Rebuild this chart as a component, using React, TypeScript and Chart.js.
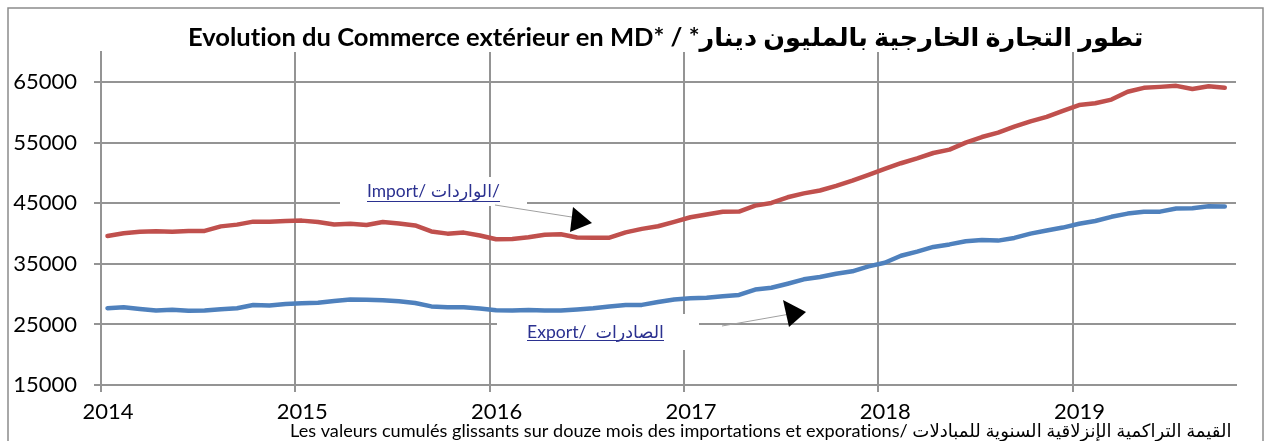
import React, { useEffect, useRef } from "react";
import { Chart, registerables } from "chart.js";

Chart.register(...registerables);

// Monthly rolling 12-month cumulative values, Jan 2014 .. Oct 2019 (MD)
const importValues = [
  39620, 40070, 40330, 40400, 40330, 40450, 40450, 41200, 41490, 41980, 41980, 42100,
  42150, 41930, 41520, 41650, 41440, 41930, 41680, 41350, 40360, 40000, 40170, 39700,
  39080, 39100, 39400, 39820, 39900, 39360, 39320, 39340, 40210, 40790, 41220, 41950,
  42710, 43170, 43630, 43650, 44630, 45070, 46000, 46650, 47130, 47900, 48750, 49700,
  50680, 51630, 52440, 53320, 53880, 55030, 55960, 56680, 57670, 58550, 59290, 60280,
  61240, 61530, 62140, 63430, 64080, 64240, 64410, 63880, 64340, 64090,
];
const exportValues = [
  27690, 27850, 27570, 27300, 27410, 27250, 27290, 27530, 27680, 28200, 28130, 28390,
  28500, 28600, 28860, 29140, 29060, 29010, 28820, 28540, 27980, 27860, 27850, 27650,
  27350, 27300, 27380, 27310, 27290, 27480, 27670, 27980, 28200, 28230, 28700, 29120,
  29320, 29420, 29650, 29870, 30760, 31060, 31730, 32450, 32850, 33380, 33780, 34600,
  35200, 36350, 37040, 37800, 38220, 38740, 38960, 38850, 39290, 40000, 40520, 41000,
  41640, 42090, 42780, 43310, 43600, 43630, 44160, 44190, 44520, 44470,
];
const startYear = 2014;
const yearTicks = [2014, 2015, 2016, 2017, 2018, 2019];
const valueTicks = [15000, 25000, 35000, 45000, 55000, 65000];

const titleFr = "Evolution du Commerce extérieur en MD* / ";
const titleAr = "\u200Fتطور التجارة الخارجية بالمليون دينار*\u200F";
const footerText =
  "Les valeurs cumulés glissants sur douze mois des importations et exporations/ القيمة التراكمية الإنزلاقية السنوية للمبادلات";
const importLabel = "Import/ الواردات/";
const exportLabel = "Export/  الصادرات";

const FONT = "Lato, 'DejaVu Sans', sans-serif";
const GRID = "#949494";
const RED = "#C0504D";
const BLUE = "#4F81BD";
const LINKBLUE = "#2b3190";

const monthX = (i: number) => startYear + (i + 0.4) / 12;

function fitFont(ctx: CanvasRenderingContext2D, text: string, weight: string, target: number) {
  let size = 20;
  (ctx as any).letterSpacing = "0.01px";
  ctx.font = `${weight} ${size}px ${FONT}`;
  const w = ctx.measureText(text).width;
  size = (size * target) / w;
  ctx.font = `${weight} ${size}px ${FONT}`;
  return size;
}

function drawLink(ctx: CanvasRenderingContext2D, text: string, left: number, width: number, cy: number, underlineY: number) {
  fitFont(ctx, text, "normal", width);
  ctx.fillStyle = LINKBLUE;
  ctx.textAlign = "left";
  ctx.textBaseline = "middle";
  ctx.direction = "ltr";
  ctx.fillText(text, left, cy);
  ctx.strokeStyle = LINKBLUE;
  ctx.lineWidth = 1;
  ctx.beginPath();
  ctx.moveTo(left, underlineY + 0.5);
  ctx.lineTo(left + width, underlineY + 0.5);
  ctx.stroke();
}

function drawPointer(ctx: CanvasRenderingContext2D, from: number[], to: number[], tri: number[][]) {
  ctx.strokeStyle = "#a0a0a0";
  ctx.lineWidth = 1;
  ctx.beginPath();
  ctx.moveTo(from[0], from[1]);
  ctx.lineTo(to[0], to[1]);
  ctx.stroke();
  ctx.fillStyle = "#000";
  ctx.beginPath();
  ctx.moveTo(tri[0][0], tri[0][1]);
  ctx.lineTo(tri[1][0], tri[1][1]);
  ctx.lineTo(tri[2][0], tri[2][1]);
  ctx.closePath();
  ctx.fill();
}

const decorPlugin = {
  id: "decor",
  beforeDatasetsDraw(chart: any) {
    const ctx = chart.ctx as CanvasRenderingContext2D;
    ctx.save();
    ctx.fillStyle = "#ffffff";
    ctx.fillRect(340, 177, 187, 29);
    ctx.fillRect(497, 314, 202, 36);
    ctx.restore();
  },
  afterDatasetsDraw(chart: any) {
    const ctx = chart.ctx as CanvasRenderingContext2D;
    ctx.save();
    drawLink(ctx, importLabel, 367, 133, 191, 201);
    drawPointer(ctx, [495, 205], [578, 218], [[573, 207], [592, 223], [570, 232]]);
    drawLink(ctx, exportLabel, 527, 137, 332, 340);
    drawPointer(ctx, [722, 326], [790, 314], [[783, 300], [806, 312], [789, 327]]);
    ctx.restore();
  },
  afterDraw(chart: any) {
    const ctx = chart.ctx as CanvasRenderingContext2D;
    ctx.save();
    // frame
    ctx.strokeStyle = "#8c8c8c";
    ctx.lineWidth = 1.5;
    ctx.beginPath();
    ctx.moveTo(8, 441);
    ctx.lineTo(8, 8);
    ctx.lineTo(1263, 8);
    ctx.lineTo(1263, 441);
    ctx.stroke();
    // title
    ctx.direction = "ltr";
    ctx.textBaseline = "middle";
    const full = titleFr + titleAr;
    fitFont(ctx, full, "bold", 956);
    ctx.fillStyle = "#000";
    ctx.textAlign = "left";
    ctx.fillText(full, 188, 38);
    // footer
    fitFont(ctx, footerText, "normal", 942);
    ctx.fillText(footerText, 290, 431);
    ctx.restore();
  },
};

export default function App() {
  const ref = useRef<HTMLCanvasElement | null>(null);
  useEffect(() => {
    if (!ref.current) return;
    const chart = new Chart(ref.current, {
      type: "line",
      data: {
        datasets: [
          {
            label: "Import",
            data: importValues.map((v, i) => ({ x: monthX(i), y: v })),
            borderColor: RED,
            borderWidth: 4.5,
            pointRadius: 0,
            tension: 0,
            borderCapStyle: "round",
            borderJoinStyle: "round",
          },
          {
            label: "Export",
            data: exportValues.map((v, i) => ({ x: monthX(i), y: v })),
            borderColor: BLUE,
            borderWidth: 4.5,
            pointRadius: 0,
            tension: 0,
            borderCapStyle: "round",
            borderJoinStyle: "round",
          },
        ],
      },
      options: {
        animation: false,
        responsive: false,
        devicePixelRatio: 1,
        layout: { padding: { left: 0, top: 52, right: 36, bottom: 0 } },
        plugins: { legend: { display: false }, tooltip: { enabled: false }, title: { display: false } },
        scales: {
          x: {
            type: "linear",
            min: 2014,
            max: 2019.841,
            afterBuildTicks: (s: any) => {
              s.ticks = yearTicks.map((v) => ({ value: v }));
            },
            afterFit: (s: any) => {
              s.height = 56;
            },
            ticks: {
              callback: (v: any) => String(v),
              color: "#000",
              font: { family: FONT, size: 22 },
              padding: 7,
              labelOffset: 7,
              maxRotation: 0,
              autoSkip: false,
            },
            grid: { color: GRID, lineWidth: 2, tickLength: 7 },
            border: { color: GRID, width: 2 },
          },
          y: {
            min: 15000,
            max: 70000,
            afterBuildTicks: (s: any) => {
              s.ticks = valueTicks.map((v) => ({ value: v }));
            },
            afterFit: (s: any) => {
              s.width = 101;
            },
            ticks: {
              callback: (v: any) => String(v),
              color: "#000",
              font: { family: FONT, size: 22 },
              padding: 17,
              autoSkip: false,
            },
            grid: { color: GRID, lineWidth: 2, tickLength: 7 },
            border: { color: GRID, width: 2 },
          },
        },
      },
      plugins: [decorPlugin],
    } as any);
    return () => chart.destroy();
  }, []);
  return (
    <div style={{ position: "absolute", left: 0, top: 0, width: 1272, height: 441, background: "#fff" }}>
      <canvas ref={ref} width={1272} height={441} style={{ display: "block" }} />
    </div>
  );
}
